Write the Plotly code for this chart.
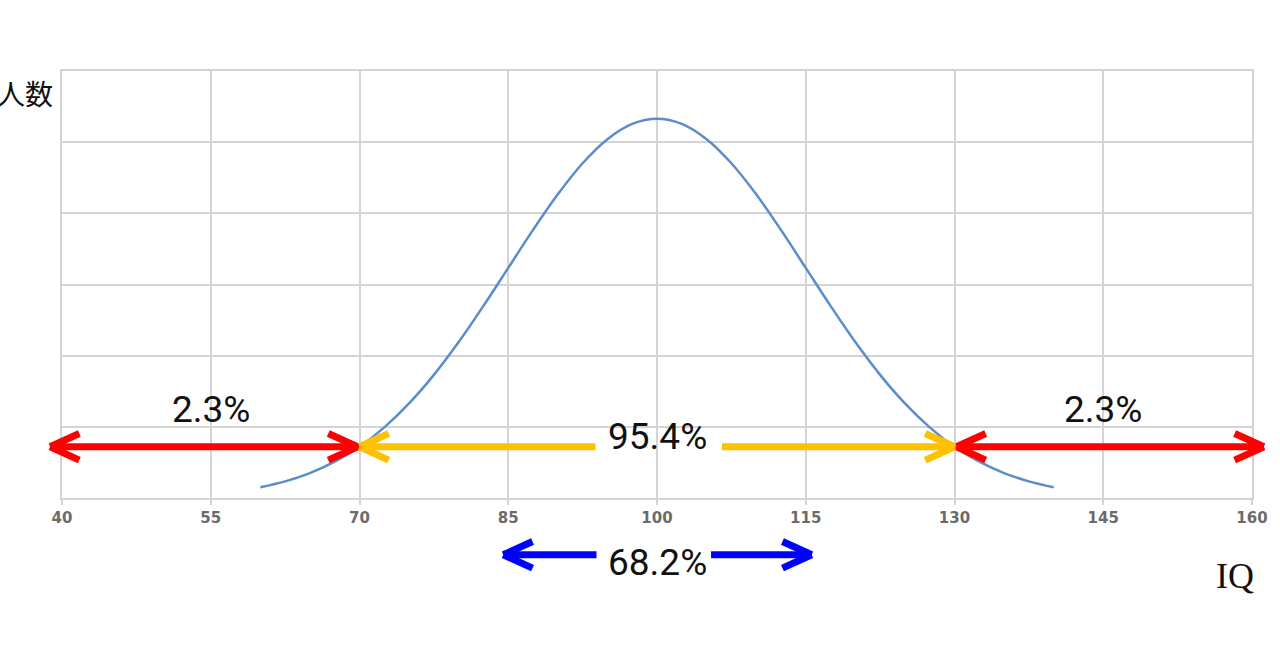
import plotly.graph_objects as go

# ---- data ----
iq = [60, 62.5, 65, 67.5, 70, 72.5, 75, 77.5, 80, 82.5, 85, 87.5, 90, 92.5, 95, 97.5, 100,
      102.5, 105, 107.5, 110, 112.5, 115, 117.5, 120, 122.5, 125, 127.5, 130, 132.5, 135, 137.5, 140]
people = [0.152, 0.234, 0.350, 0.510, 0.721, 0.993, 1.329, 1.730, 2.191, 2.699, 3.233,
          3.767, 4.268, 4.704, 5.042, 5.257, 5.330,
          5.257, 5.042, 4.704, 4.268, 3.767, 3.233, 2.699, 2.191, 1.730, 1.329,
          0.993, 0.721, 0.510, 0.350, 0.234, 0.152]

x_ticks = [40, 55, 70, 85, 100, 115, 130, 145, 160]

left_band = [40, 70]
middle_band = [70, 130]
right_band = [130, 160]
inner_band = [85, 115]
tail_share = "2.3%"
middle_share = "95.4%"
inner_share = "68.2%"

y_title = "人数"
x_title = "IQ"

# ---- styles / positions ----
RED, GOLD, BLUE = "#FF0000", "#FFC000", "#0000FF"
GRID = "#D4D4D4"
W = 7            # arrow line width (px)
ARM_DX = 3.1     # chevron arm length along x (data units)
ARM_DY = 14      # chevron arm half-height (px)
OVER = 1.2       # red arrows overshoot the frame (data units)
ARROW_Y = 0.72   # level of red / gold arrows (data units)
BLUE_Y = -0.133  # level of blue arrow (paper)
PCT_FONT = dict(family="Roboto, Liberation Sans, sans-serif", size=37, color="#111111")

fig = go.Figure()
fig.add_trace(go.Scatter(x=iq, y=people, mode="lines",
                         line=dict(color="#5B8DCB", width=2.5, shape="spline"),
                         hoverinfo="skip", showlegend=False))

ann = []


def seg(xa, xb, y, color, yref="y"):
    ann.append(dict(x=xb, y=y, ax=xa, ay=0, xref="x", yref=yref, axref="x", ayref="pixel",
                    showarrow=True, arrowhead=0, arrowwidth=W, arrowcolor=color,
                    text="", font=dict(size=1)))


def head(xtip, y, direction, color, yref="y"):
    # direction = -1 : points left, +1 : points right
    for s in (-1, 1):
        ann.append(dict(x=xtip, y=y, ax=xtip - direction * ARM_DX, ay=s * ARM_DY,
                        xref="x", yref=yref, axref="x", ayref="pixel",
                        showarrow=True, arrowhead=0, arrowwidth=W, arrowcolor=color,
                        text="", font=dict(size=1)))


# red left
seg(left_band[0] - OVER, left_band[1], ARROW_Y, RED)
head(left_band[0] - OVER, ARROW_Y, -1, RED)
head(left_band[1] - 0.2, ARROW_Y, 1, RED)
# red right
seg(right_band[0] + 0.2, right_band[1] + OVER, ARROW_Y, RED)
head(right_band[0] + 0.2, ARROW_Y, -1, RED)
head(right_band[1] + OVER, ARROW_Y, 1, RED)
# gold middle
mid = (middle_band[0] + middle_band[1]) / 2
seg(middle_band[0], mid - 6.2, ARROW_Y, GOLD)
seg(mid + 6.4, middle_band[1], ARROW_Y, GOLD)
head(middle_band[0], ARROW_Y, -1, GOLD)
head(middle_band[1], ARROW_Y, 1, GOLD)
# blue inner
seg(inner_band[0] - 0.5, mid - 6.1, BLUE_Y, BLUE, "paper")
seg(mid + 5.3, inner_band[1] + 0.6, BLUE_Y, BLUE, "paper")
head(inner_band[0] - 0.5, BLUE_Y, -1, BLUE, "paper")
head(inner_band[1] + 0.6, BLUE_Y, 1, BLUE, "paper")

# percentage labels
ann.append(dict(x=sum(left_band) / 2, y=1.24, xref="x", yref="y", text=tail_share,
                showarrow=False, font=PCT_FONT, yanchor="middle"))
ann.append(dict(x=sum(right_band) / 2, y=1.24, xref="x", yref="y", text=tail_share,
                showarrow=False, font=PCT_FONT, yanchor="middle"))
ann.append(dict(x=mid, y=0.86, xref="x", yref="y", text=middle_share,
                showarrow=False, font=PCT_FONT, yanchor="middle"))
ann.append(dict(x=mid, y=-0.152, xref="x", yref="paper", text=inner_share,
                showarrow=False, font=PCT_FONT, yanchor="middle"))

# axis titles
ann.append(dict(x=-0.006, y=0.948, xref="paper", yref="paper", xanchor="right", yanchor="middle",
                text=y_title, showarrow=False,
                font=dict(family="Noto Sans CJK JP", size=28, color="#111111")))
ann.append(dict(x=1.003, y=-0.183, xref="paper", yref="paper", xanchor="right", yanchor="middle",
                text=x_title, showarrow=False,
                font=dict(family="Liberation Serif, DejaVu Serif, serif", size=36, color="#111111")))

fig.update_layout(
    width=1280, height=670,
    margin=dict(l=62, r=22, t=71, b=172),
    paper_bgcolor="white", plot_bgcolor="white",
    annotations=ann,
    xaxis=dict(range=[40, 160], tickvals=x_ticks, showgrid=True, gridcolor=GRID, gridwidth=1.5,
               showline=True, mirror=True, linecolor=GRID, linewidth=1.5, zeroline=False,
               ticks="outside", ticklen=5, tickwidth=1.5, tickcolor=GRID,
               tickfont=dict(family="Verdana, DejaVu Sans, sans-serif", size=15,
                             color="#6B6B6B", weight="bold")),
    yaxis=dict(range=[0, 6], dtick=1, showgrid=True, gridcolor=GRID, gridwidth=1.5,
               showline=True, mirror=True, linecolor=GRID, linewidth=1.5, zeroline=False,
               showticklabels=False, ticks=""),
)

fig.write_html("out.html", config={"displayModeBar": False},
               post_script="document.body.style.margin='0px';")
